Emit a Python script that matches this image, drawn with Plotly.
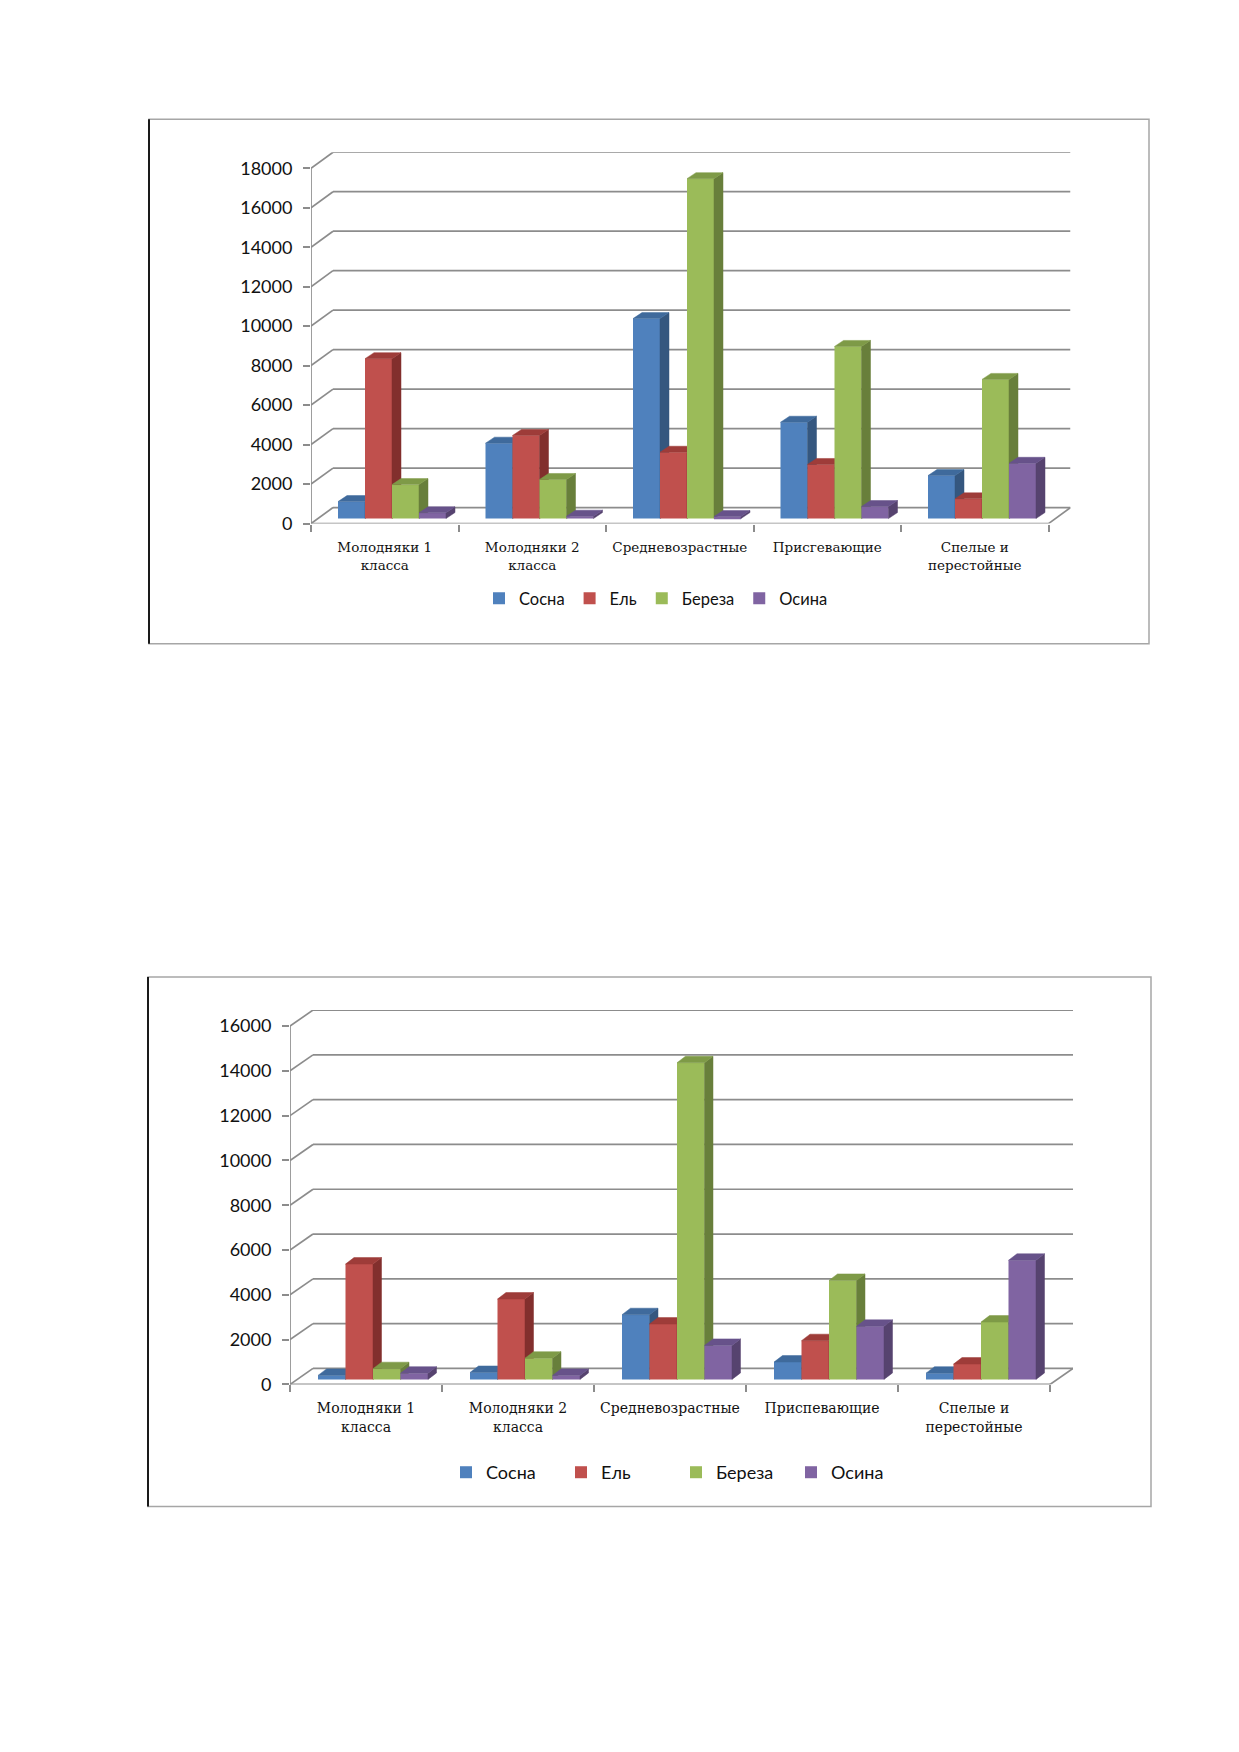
import plotly.graph_objects as go

# page size of the scanned sheet; the html page adds a margin round the figure
W, H = 1239, 1752
OFF = 8
FW, FH = W - 2 * OFF, H - 28
VSCALE = 0.9932   # the photographed page comes out slightly squeezed vertically

# data
categories1 = ["Молодняки 1<br>класса", "Молодняки 2<br>класса", "Средневозрастные",
               "Присгевающие", "Спелые и<br>перестойные"]
categories2 = ["Молодняки 1<br>класса", "Молодняки 2<br>класса", "Средневозрастные",
               "Приспевающие", "Спелые и<br>перестойные"]
series_names = ["Сосна", "Ель", "Береза", "Осина"]

sosna1 = [860, 3820, 10130, 4880, 2180]
el1 = [8100, 4210, 3360, 2740, 1000]
bereza1 = [1720, 1980, 17220, 8720, 7050]
osina1 = [290, 120, 100, 610, 2800]

sosna2 = [180, 310, 2890, 775, 280]
el2 = [5150, 3590, 2470, 1730, 685]
bereza2 = [480, 950, 14140, 4420, 2560]
osina2 = [280, 180, 1520, 2370, 5320]

# excel 2007 palette: front, side, top
front_colors = ["#4F81BD", "#C0504D", "#9BBB59", "#8064A2"]
side_colors = ["#35577F", "#822F2D", "#687F3B", "#56436F"]
top_colors = ["#3F6A9C", "#9E3C39", "#7E9A47", "#67528A"]

grid_color = "#8C8C8C"
sans = "Lato, 'Open Sans', sans-serif"
serif = "'DejaVu Serif', 'Liberation Serif', serif"


def px_x(p):
    return (p - OFF) / FW


def px_y(p):
    return 1 - (p / VSCALE - OFF) / FH


fig = go.Figure()
shapes = []


def add_chart(n, cats, series, g):
    # axis names for this chart
    xa = "x" if n == 1 else "x2"
    ya = "y" if n == 1 else "y2"
    over_ids = [3 + 4 * (n - 1) + j for j in range(4)]

    cat_px = g["cat_px"]
    unit = g["unit_px"] / 1000.0          # pixels per value unit
    wall_dx = g["wall_dx"] / cat_px       # back wall offset in axis units
    wall_dy = g["wall_dy"] / unit
    lift = g["lift"] / unit
    dep_dx = g["depth_dx"] / cat_px
    dep_dy = g["depth_dy"] / unit
    ymax = g["ymax"]
    ncat = len(cats)

    x_dom = [px_x(g["left_px"]), px_x(g["left_px"] + ncat * cat_px + g["wall_dx"])]
    top_px = g["y0_px"] - ymax * unit - g["wall_dy"]
    y_dom = [px_y(g["y0_px"]), px_y(top_px)]
    y_rng = [0, ymax + wall_dy]

    idx = list(range(ncat))
    axis_key = "xaxis" if n == 1 else "xaxis2"
    yaxis_key = "yaxis" if n == 1 else "yaxis2"
    fig.update_layout({
        axis_key: dict(domain=x_dom, range=[-0.5, ncat - 0.5 + wall_dx], anchor=ya,
                       tickmode="array", tickvals=idx, ticktext=cats, ticks="",
                       showgrid=False, zeroline=False, showline=False,
                       tickfont=dict(family=serif, size=g["cat_font"], color="#111"),
                       ticklabelstandoff=g["cat_standoff"],
                       minor=dict(tickmode="array", tickvals=[i - 0.5 for i in range(ncat + 1)],
                                  ticks="outside", ticklen=7, tickwidth=1.5,
                                  tickcolor=grid_color, showgrid=False),
                       fixedrange=True),
        yaxis_key: dict(domain=y_dom, range=y_rng, anchor=xa,
                        tickmode="array", tickvals=list(range(0, ymax + 1, 2000)),
                        tickformat="d",
                        ticks="outside", ticklen=7, tickwidth=1.5, tickcolor=grid_color,
                        showgrid=False, zeroline=False, showline=False,
                        tickfont=dict(family=sans, size=18, color="#111"),
                        ticklabelstandoff=7, fixedrange=True),
    })
    for oid in over_ids:
        fig.update_layout({
            "yaxis%d" % oid: dict(overlaying=ya, anchor=xa, range=[y_rng[0] - lift, y_rng[1] - lift],
                                  visible=False, fixedrange=True)
        })

    # back wall gridlines with their diagonal joins to the front axis
    for v in range(0, ymax + 1, 2000):
        shapes.append(dict(type="line", xref=xa, yref=ya, x0=-0.5, y0=v,
                           x1=-0.5 + wall_dx, y1=v + wall_dy, layer="below",
                           line=dict(color=grid_color, width=1.7)))
        shapes.append(dict(type="line", xref=xa, yref=ya, x0=-0.5 + wall_dx, y0=v + wall_dy,
                           x1=ncat - 0.5 + wall_dx, y1=v + wall_dy, layer="below",
                           line=dict(color=grid_color, width=1.7)))
    # front axes and right floor edge
    shapes.append(dict(type="line", xref=xa, yref=ya, x0=-0.5, y0=0, x1=-0.5, y1=ymax,
                       layer="below", line=dict(color=grid_color, width=1.7)))
    shapes.append(dict(type="line", xref=xa, yref=ya, x0=-0.5, y0=0, x1=ncat - 0.5, y1=0,
                       layer="below", line=dict(color=grid_color, width=1.7)))
    shapes.append(dict(type="line", xref=xa, yref=ya, x0=ncat - 0.5, y0=0,
                       x1=ncat - 0.5 + wall_dx, y1=wall_dy,
                       layer="below", line=dict(color=grid_color, width=1.7)))

    bw = g["bar_px"] / cat_px
    start = -0.5 + g["group_px"] / cat_px
    for j, vals in enumerate(series):
        yref = "y%d" % over_ids[j]
        off = start + j * bw
        fig.add_trace(go.Bar(x=idx, y=vals, width=bw, offset=off, name=series_names[j],
                             marker=dict(color=front_colors[j], line=dict(width=0)),
                             xaxis=xa, yaxis=yref, legend="legend" if n == 1 else "legend2"))
        sx, sy, tx, ty = [], [], [], []
        for i, v in enumerate(vals):
            x0 = i + off
            x1 = x0 + bw
            sx += [x1, x1 + dep_dx, x1 + dep_dx, x1, x1, None]
            sy += [0, dep_dy, v + dep_dy, v, 0, None]
            tx += [x0, x0 + dep_dx, x1 + dep_dx, x1, x0, None]
            ty += [v, v + dep_dy, v + dep_dy, v, v, None]
        fig.add_trace(go.Scatter(x=sx, y=sy, fill="toself", mode="lines",
                                 fillcolor=side_colors[j], line=dict(width=0.5, color=side_colors[j]),
                                 hoverinfo="skip", showlegend=False, xaxis=xa, yaxis=yref))
        fig.add_trace(go.Scatter(x=tx, y=ty, fill="toself", mode="lines",
                                 fillcolor=top_colors[j], line=dict(width=0.5, color=top_colors[j]),
                                 hoverinfo="skip", showlegend=False, xaxis=xa, yaxis=yref))


geom1 = dict(left_px=311, cat_px=147.5, y0_px=523, unit_px=19.72, ymax=18000,
             wall_dx=22, wall_dy=16, lift=5, depth_dx=9, depth_dy=6,
             group_px=27, bar_px=27, cat_font=13.5, cat_standoff=14)
geom2 = dict(left_px=290, cat_px=152, y0_px=1383, unit_px=22.375, ymax=16000,
             wall_dx=23, wall_dy=16, lift=5, depth_dx=8.5, depth_dy=6.5,
             group_px=28, bar_px=27.5, cat_font=14, cat_standoff=14)

add_chart(1, categories1, [sosna1, el1, bereza1, osina1], geom1)
add_chart(2, categories2, [sosna2, el2, bereza2, osina2], geom2)

# chart frames
for (l, t, r, b) in [(149, 119, 1149, 643), (148, 976, 1151, 1505)]:
    shapes.append(dict(type="rect", xref="paper", yref="paper", x0=px_x(l), x1=px_x(r),
                       y0=px_y(b), y1=px_y(t), line=dict(color="#A6A6A6", width=1.5)))
    shapes.append(dict(type="line", xref="paper", yref="paper", x0=px_x(l), x1=px_x(l),
                       y0=px_y(b), y1=px_y(t), line=dict(color="#1A1A1A", width=2)))

fig.update_layout(
    width=FW, height=FH,
    margin=dict(l=0, r=0, t=0, b=0),
    paper_bgcolor="white", plot_bgcolor="rgba(0,0,0,0)",
    barmode="overlay",
    shapes=shapes,
    legend=dict(orientation="h", x=px_x(656), y=px_y(598), xanchor="center", yanchor="middle",
                font=dict(family=sans, size=16.5, color="#111"), bgcolor="rgba(0,0,0,0)"),
    legend2=dict(orientation="h", x=px_x(676), y=px_y(1471), xanchor="center", yanchor="middle",
                 font=dict(family=sans, size=18, color="#111"), bgcolor="rgba(0,0,0,0)",
                 entrywidth=70, entrywidthmode="pixels"),
)

fig.write_html("out.html")
